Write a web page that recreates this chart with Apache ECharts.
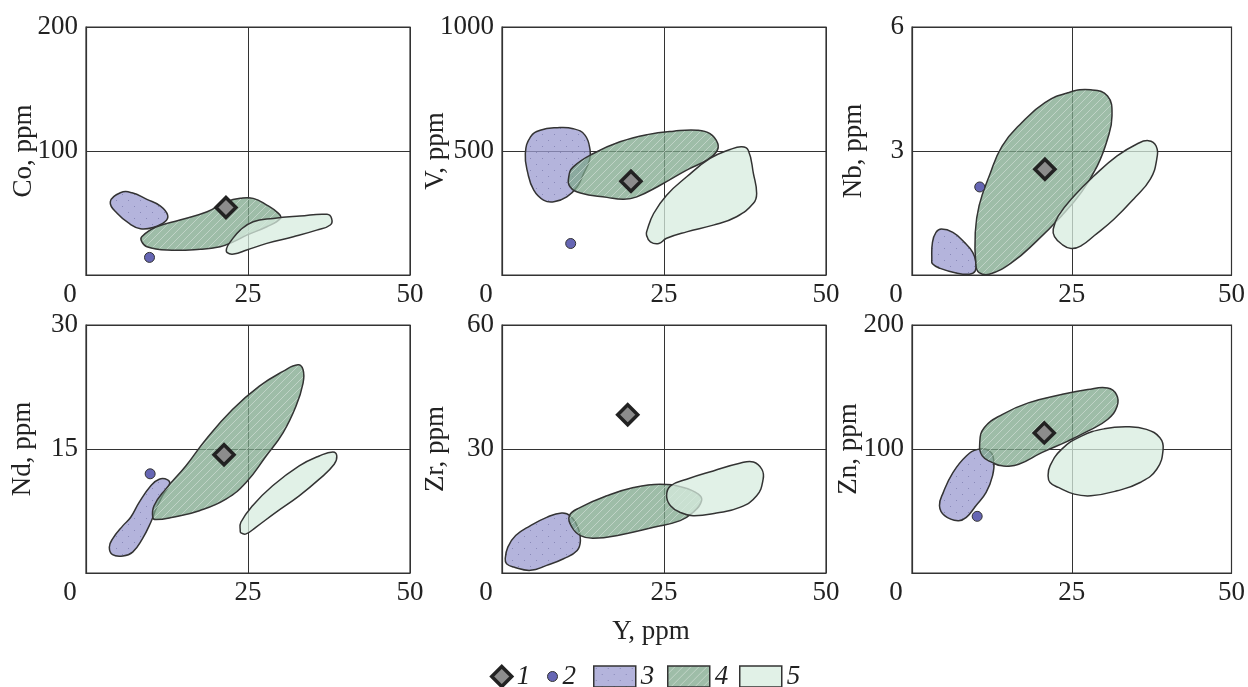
<!DOCTYPE html>
<html>
<head>
<meta charset="utf-8">
<script src="https://cdn.jsdelivr.net/npm/echarts@6/dist/echarts.min.js"></script>
<style>
  html, body { margin: 0; padding: 0; background: #fff; }
  #chart { width: 1248px; height: 687px; }
</style>
</head>
<body>
<div id="chart"></div>
<script>
// axis titles and ranges, one entry per panel (row by row)
const panelNames = ['Co, ppm', 'V, ppm', 'Nb, ppm', 'Nd, ppm', 'Zr, ppm', 'Zn, ppm'];
const yMax = [200, 1000, 6, 30, 60, 200];
const xMax = 50;
const xStep = 25;

// sample 1 (diamond) and point 2 (circle), [Y, element]
const sample1 = [[21.6, 54.5], [19.9, 378], [20.8, 2.56], [21.3, 14.3], [19.4, 38.3], [20.7, 113]];
const point2 = [[9.8, 14.2], [10.6, 127], [10.6, 2.13], [9.9, 12.0], null, [10.2, 45.7]];

// field outlines
const coField3 = [[3.75, 59], [5.3, 66.3], [7.1, 66.3], [9.4, 61], [11.5, 55.6], [12.6, 48.3], [12.2, 43], [10.4, 38.4], [8.4, 37.3], [6.8, 41.1], [4.8, 49.7]];
const coField4 = [[8.6, 30.9], [10.9, 38.9], [14.5, 44.3], [18.7, 51], [21.7, 59.1], [23.8, 61.8], [25.8, 61.8], [27.9, 56.4], [29.7, 49.7], [30, 45.6], [27.9, 38.9], [24.8, 32.2], [22.8, 26.9], [20.7, 22.8], [17.6, 20.7], [12.5, 20.1], [9.4, 22.8], [8.6, 26.9]];
const coField5 = [[21.7, 21.5], [22.3, 26.9], [23.8, 36.2], [25.8, 43], [28.9, 45.6], [33, 47.5], [37.2, 48.9], [37.9, 45.6], [37.7, 40.3], [35.6, 36.2], [32, 30.9], [27.9, 25.5], [24.8, 20.1], [22.8, 16.9], [21.8, 18]];

const vField3 = [[3.6, 490], [4.4, 557], [5.9, 584], [8.5, 594], [11, 590], [12.8, 564], [13.6, 503], [13.5, 463], [12.6, 409], [11.6, 356], [10, 315], [8, 295], [6.4, 302], [4.9, 342], [4, 409]];
const vField4 = [[10.3, 396], [11, 436], [14.1, 490], [18.2, 537], [22.4, 566], [26.5, 580], [30.1, 584], [32.1, 570], [33.3, 530], [33.1, 497], [31.6, 463], [28.5, 423], [24.4, 362], [20.8, 315], [18.8, 305], [16.2, 313], [12.1, 331], [10.5, 356]];
const vField5 = [[22.4, 181], [23.4, 248], [25.4, 322], [28.5, 396], [32.1, 470], [35.2, 506], [37, 517], [38, 503], [38.8, 409], [39.3, 329], [38.8, 289], [36.2, 235], [32.6, 201], [28.5, 174], [25.4, 148], [24.2, 127], [22.9, 134], [22.3, 161]];

const nbField3 = [[3.1, 0.39], [3.2, 0.79], [3.75, 1.03], [4.6, 1.11], [6.4, 1.03], [8.2, 0.79], [9.5, 0.55], [10, 0.31], [9.9, 0.1], [9, 0.02], [6.9, 0.05], [4.4, 0.16], [3.2, 0.27]];
const nbField4 = [[10, 0.23], [9.9, 1.03], [10.5, 1.68], [12.1, 2.4], [14.1, 3.12], [17.2, 3.69], [20.8, 4.17], [24.4, 4.41], [28, 4.48], [30.6, 4.33], [31.3, 3.85], [30.6, 3.29], [29, 2.64], [26.5, 2.0], [23.4, 1.43], [19.3, 0.79], [15.7, 0.31], [12.1, 0.02], [10.5, 0.06]];
const nbField5 = [[22.1, 1.11], [22.9, 1.43], [25.4, 1.92], [28.5, 2.4], [32.1, 2.88], [35.2, 3.17], [37, 3.25], [38.2, 3.12], [38.3, 2.8], [37.3, 2.32], [34.7, 1.84], [31.6, 1.35], [28.5, 0.95], [26.5, 0.71], [24.9, 0.64], [23.4, 0.75], [22.3, 0.93]];

const ndField3 = [[3.6, 3.13], [4.1, 4.13], [5.7, 5.73], [6.9, 6.74], [8.2, 8.54], [10, 10.55], [11.3, 11.35], [12.6, 11.27], [12.9, 10.75], [11.8, 9.34], [10.8, 7.74], [10, 6.14], [8.7, 4.13], [7.2, 2.53], [5.7, 2.05], [4.1, 2.21]];
const ndField4 = [[10.3, 6.74], [10.5, 8.14], [12.3, 10.15], [15.4, 12.95], [18.5, 16.16], [22.6, 19.77], [26.7, 22.58], [30.4, 24.38], [32.7, 25.18], [33.5, 24.58], [33.5, 22.98], [32.4, 20.17], [30.4, 16.96], [27.8, 14.16], [24.7, 10.95], [21.6, 8.94], [17.5, 7.54], [13.4, 6.74], [10.8, 6.46]];
const ndField5 = [[23.8, 5.13], [23.9, 6.14], [25.7, 8.14], [28.8, 10.55], [32.9, 12.95], [36, 14.16], [38.1, 14.64], [38.7, 14.16], [38.3, 13.15], [36, 11.35], [32.9, 9.34], [29.3, 7.34], [26.2, 5.53], [24.7, 4.73], [23.9, 4.85]];

const zrField3 = [[0.5, 3.45], [0.9, 6.26], [2.1, 9.06], [4.4, 11.47], [6.9, 13.47], [9.2, 14.52], [10.5, 13.87], [11.8, 10.67], [12.1, 7.86], [11.6, 5.45], [9.5, 3.45], [6.9, 1.84], [4.4, 0.64], [1.8, 1.44], [0.7, 2.25]];
const zrField4 = [[10.4, 13.87], [12.1, 15.88], [16.2, 18.69], [20.3, 20.69], [24.4, 21.49], [28, 20.69], [30.3, 19.09], [30.8, 17.48], [29.5, 14.68], [27.5, 12.67], [23.4, 11.07], [18.2, 9.22], [14.1, 8.42], [12.1, 9.06], [10.8, 11.07]];
const zrField5 = [[25.4, 18.69], [26, 21.09], [28.5, 22.7], [32.6, 24.7], [36.7, 26.55], [38.8, 26.87], [40.1, 25.1], [40.3, 22.7], [39.3, 18.69], [36.7, 15.88], [33.1, 14.52], [29.5, 13.87], [27.5, 14.68], [26, 16.28]];

const znField3 = [[4.3, 54.3], [4.9, 65], [6.4, 81], [8.5, 94.4], [10.3, 99.7], [12.1, 98.4], [12.8, 90.4], [12.6, 78.3], [11.6, 65], [10, 54.3], [8.5, 44.9], [7.2, 42.2], [5.1, 46.3]];
const znField4 = [[10.6, 105.1], [11.3, 117.1], [14.1, 127.8], [18.2, 137.2], [23.4, 143.9], [27.5, 147.9], [30.6, 149.2], [32, 143.9], [32.1, 134.5], [30.6, 123.8], [27.5, 114.4], [24.4, 106.4], [20.3, 97.1], [16.7, 87.7], [14.1, 86.4], [12.6, 89], [11, 94.4]];
const znField5 = [[21.3, 78.3], [21.6, 86.4], [23.4, 99.7], [26.5, 110.4], [30.1, 116.3], [33.7, 117.9], [36.7, 115.8], [38.8, 109.1], [39.3, 99.7], [38.3, 83.7], [35.7, 73], [32.1, 66.3], [28, 62.3], [25.4, 63.6], [22.9, 69], [21.6, 73]];

const field3 = [coField3, vField3, nbField3, ndField3, zrField3, znField3];
const field4 = [coField4, vField4, nbField4, ndField4, zrField4, znField4];
const field5 = [coField5, vField5, nbField5, ndField5, zrField5, znField5];

// ---- fills ----
function makePattern(base, draw, size) {
  const c = document.createElement('canvas');
  c.width = size; c.height = size;
  const ctx = c.getContext('2d');
  ctx.fillStyle = base;
  ctx.fillRect(0, 0, size, size);
  draw(ctx, size);
  return { image: c, repeat: 'repeat' };
}
const dotFill = makePattern('rgba(155,155,208,0.75)', function (ctx) {
  ctx.fillStyle = 'rgba(120,120,170,0.7)';
  ctx.fillRect(2, 2, 1, 1);
  ctx.fillRect(8, 8, 1, 1);
}, 12);
const hatchFill = makePattern('rgba(126,167,139,0.75)', function (ctx, s) {
  ctx.strokeStyle = 'rgba(215,225,220,0.6)';
  ctx.lineWidth = 1;
  ctx.beginPath();
  ctx.moveTo(-s / 2, s / 2); ctx.lineTo(s / 2, -s / 2);
  ctx.moveTo(0, s); ctx.lineTo(s, 0);
  ctx.moveTo(s / 2, s * 1.5); ctx.lineTo(s * 1.5, s / 2);
  ctx.stroke();
}, 8);
const paleFill = 'rgba(215,236,223,0.75)';

const serif = 'Liberation Serif';
const ink = '#222';

// ---- layout ----
const lefts = [86, 502, 912];
const tops = [27, 325];
const nameGaps = [49, 53, 45, 50, 53, 50];
const grids = [], xAxes = [], yAxes = [], series = [];

for (let i = 0; i < 6; i++) {
  grids.push({
    left: lefts[i % 3], top: tops[Math.floor(i / 3)], width: 324, height: 248,
    show: true, borderColor: '#333', borderWidth: 1.2, backgroundColor: 'transparent'
  });
  xAxes.push({
    gridIndex: i, type: 'value', min: 0, max: xMax, interval: xStep,
    name: i === 4 ? 'Y, ppm' : '', nameLocation: 'middle', nameGap: 45,
    nameTextStyle: { fontFamily: serif, fontSize: 27, color: ink, padding: [0, 26, 0, 0] },
    axisLine: { show: true, lineStyle: { color: '#333', width: 1.2 } },
    axisTick: { show: false },
    splitLine: { show: true, lineStyle: { color: '#333', width: 1 } },
    axisLabel: {
      margin: 6, fontFamily: serif, fontSize: 27, color: ink,
      formatter: function (v) { return v === 0 ? '{o|0}' : String(v); },
      rich: { o: { fontFamily: serif, fontSize: 27, color: ink, padding: [0, 32, 0, 0] } }
    }
  });
  yAxes.push({
    gridIndex: i, type: 'value', min: 0, max: yMax[i], interval: yMax[i] / 2,
    name: panelNames[i], nameLocation: 'middle', nameGap: nameGaps[i], nameMoveOverlap: false,
    nameTextStyle: { fontFamily: serif, fontSize: 27, color: ink },
    axisLine: { show: true, lineStyle: { color: '#333', width: 1.2 } },
    axisTick: { show: false },
    splitLine: { show: true, lineStyle: { color: '#333', width: 1 } },
    axisLabel: {
      margin: 8, fontFamily: serif, fontSize: 27, color: ink, showMinLabel: false,
      formatter: function (v) { return String(v); }
    }
  });

  const blobs = [['3', field3[i], dotFill], ['4', field4[i], hatchFill], ['5', field5[i], paleFill]];
  blobs.forEach(function (b) {
    const pts = b[1];
    series.push({
      type: 'custom', name: b[0], xAxisIndex: i, yAxisIndex: i,
      data: pts, silent: true,
      itemStyle: { color: b[2], borderColor: '#333', borderWidth: 1.5 },
      renderItem: function (params, api) {
        if (params.dataIndex !== 0) return null;
        return {
          type: 'polygon',
          shape: { points: pts.map(function (p) { return api.coord(p); }), smooth: 0.45 },
          style: { fill: b[2], stroke: '#333', lineWidth: 1.5 }
        };
      }
    });
  });

  if (point2[i]) {
    series.push({
      type: 'scatter', name: '2', xAxisIndex: i, yAxisIndex: i,
      data: [point2[i]], symbol: 'circle', symbolSize: 10, silent: true,
      itemStyle: { color: '#6666b4', borderColor: '#333', borderWidth: 1, opacity: 1 }
    });
  }
  series.push({
    type: 'scatter', name: '1', xAxisIndex: i, yAxisIndex: i,
    data: [sample1[i]], symbol: 'diamond', symbolSize: 20, silent: true,
    itemStyle: { color: '#8c8c8c', borderColor: '#222', borderWidth: 3.5, opacity: 1 }
  });
}

const legendText = { fontFamily: serif, fontSize: 27, fontStyle: 'italic', color: ink };
function legendAt(name, left, w, h) {
  return {
    data: [name], left: left, top: 658, itemWidth: w, itemHeight: h, itemGap: 0,
    textStyle: legendText, selectedMode: false,
    itemStyle: { borderColor: '#333', borderWidth: 1.5 }
  };
}
const legends = [
  Object.assign(legendAt('1', 485, 20, 20), { itemStyle: { borderColor: '#222', borderWidth: 3.5, opacity: 1 } }),
  Object.assign(legendAt('2', 542, 10, 10), { itemStyle: { borderColor: '#333', borderWidth: 1, opacity: 1 } }),
  Object.assign(legendAt('3', 588, 42, 21), { icon: 'rect' }),
  Object.assign(legendAt('4', 662, 42, 21), { icon: 'rect' }),
  Object.assign(legendAt('5', 734, 42, 21), { icon: 'rect' })
];

const chart = echarts.init(document.getElementById('chart'), null, { renderer: 'canvas' });
chart.setOption({
  animation: false,
  backgroundColor: '#fff',
  grid: grids,
  xAxis: xAxes,
  yAxis: yAxes,
  legend: legends,
  series: series
});
</script>
</body>
</html>
